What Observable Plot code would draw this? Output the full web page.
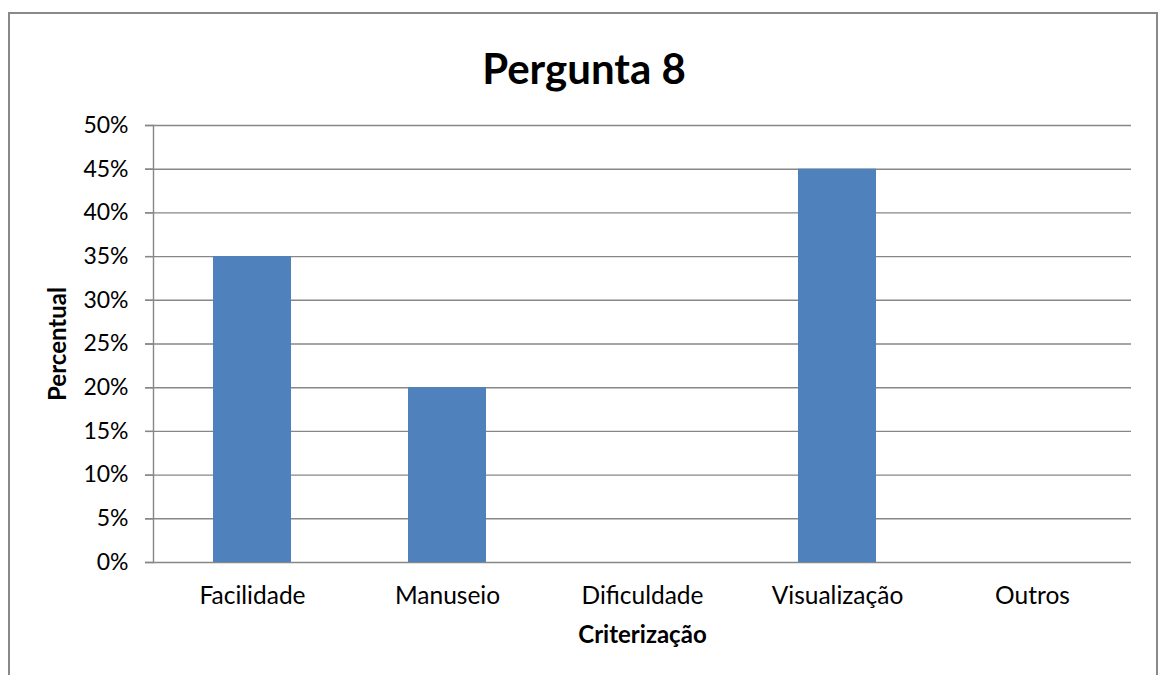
<!DOCTYPE html>
<html>
<head>
<meta charset="utf-8">
<script src="https://cdn.jsdelivr.net/npm/d3@7"></script>
<script src="https://cdn.jsdelivr.net/npm/@observablehq/plot@0.6"></script>
<style>
  html, body { margin: 0; padding: 0; background: #fff; width: 1162px; height: 675px; overflow: hidden; }
  #frame { position: absolute; left: 8px; top: 12px; width: 1150px; height: 720px; border: 2px solid #898989; box-sizing: border-box; }
  #title { position: absolute; left: 8px; width: 1152px; top: 40px; text-align: center; font-family: Lato, "Open Sans", sans-serif; font-weight: bold; font-size: 42px; line-height: 56px; color: #000; }
  #chart { position: absolute; left: 0; top: 0; }
</style>
</head>
<body>
<div id="frame"></div>
<div id="title">Pergunta 8</div>
<div id="chart"></div>
<script>
const categories = ["Facilidade", "Manuseio", "Dificuldade", "Visualização", "Outros"];
const values = [0.35, 0.20, 0, 0.45, 0];
const yTicks = [0, 0.05, 0.10, 0.15, 0.20, 0.25, 0.30, 0.35, 0.40, 0.45, 0.50];
const yLabel = "Percentual";
const xLabel = "Criterização";

const data = categories.map((c, i) => ({cat: c, value: values[i]}));

const chart = Plot.plot({
  width: 1162,
  height: 675,
  marginLeft: 153,
  marginRight: 31,
  marginTop: 125,
  marginBottom: 113,
  style: {fontFamily: "Lato, 'Open Sans', sans-serif", fontSize: "24px", color: "#000", background: "transparent", overflow: "visible"},
  x: {domain: categories, paddingInner: 0.6, paddingOuter: 0.3, label: null},
  y: {domain: [0, 0.5], label: null},
  marks: [
    Plot.ruleY(yTicks, {stroke: "#878787", strokeWidth: 1.4, insetLeft: -8}),
    Plot.frame({anchor: "left", stroke: "#878787", strokeWidth: 1.4}),
    Plot.barY(data, {x: "cat", y: "value", fill: "#4F81BD"}),
    Plot.axisY({ticks: yTicks, tickSize: 8, tickPadding: 17, stroke: "#878787", strokeWidth: 1.4, fill: "#000",
      tickFormat: d => Math.round(d * 100) + "%", label: null, fontSize: 23}),
    Plot.axisX({tickSize: 0, tickPadding: 24, label: null, fill: "#000", fontSize: 24.5}),
    Plot.text([yLabel], {frameAnchor: "left", dx: -95, rotate: -90, fontWeight: "bold", fontSize: 24, fill: "#000", textAnchor: "middle", lineAnchor: "middle"}),
    Plot.text([xLabel], {frameAnchor: "bottom", dy: 73, fontWeight: "bold", fontSize: 24, fill: "#000", textAnchor: "middle", lineAnchor: "middle"})
  ]
});
document.getElementById("chart").appendChild(chart);
</script>
</body>
</html>
